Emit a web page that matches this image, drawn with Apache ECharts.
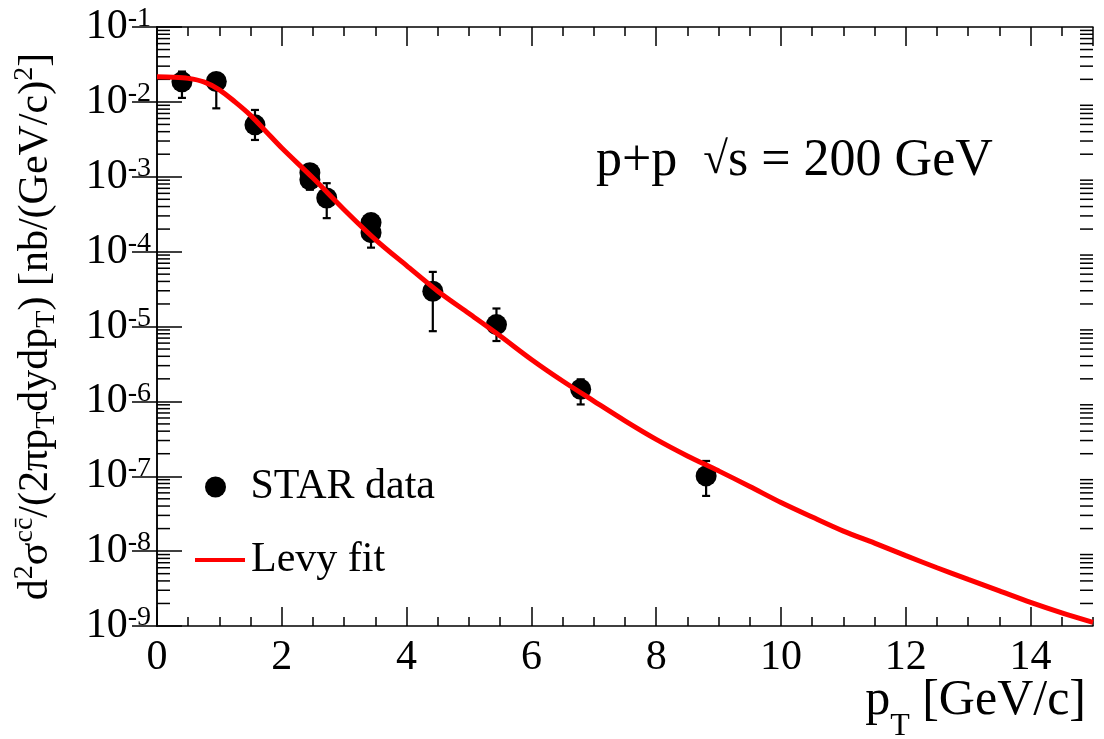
<!DOCTYPE html>
<html><head><meta charset="utf-8">
<script src="https://cdn.jsdelivr.net/npm/echarts@6/dist/echarts.min.js"></script>
<style>html,body{margin:0;padding:0;background:#fff}#c{width:1104px;height:739px}</style>
</head><body><div id="c"></div>
<script>
// STAR data points
const dataPT    = [0.40, 0.95, 1.57, 2.45, 2.45, 2.72, 3.43, 3.43, 4.42, 5.44, 6.79, 8.80];
const dataY     = [1.85e-2, 1.87e-2, 4.94e-3, 1.13e-3, 9.1e-4, 5.2e-4, 2.44e-4, 1.79e-4, 2.96e-5, 1.06e-5, 1.45e-6, 1.01e-7];
const dataErrLo = [1.13e-2, 8.2e-3, 3.1e-3, 9.0e-4, 6.7e-4, 2.8e-4, 2.0e-4, 1.13e-4, 8.66e-6, 6.4e-6, 9.1e-7, 5.46e-8];
const dataErrHi = [2.54e-2, 2.3e-2, 7.8e-3, 1.4e-3, 1.1e-3, 8.2e-4, 2.9e-4, 2.2e-4, 5.36e-5, 1.74e-5, 1.97e-6, 1.6e-7];
// Levy fit curve
const fitPT = [0, 0.25, 0.5, 0.75, 1.0, 1.25, 1.5, 1.75, 2.0, 2.5, 3.0, 3.5, 4.0, 4.5, 5.0, 5.5, 6.0, 6.5, 7.0, 7.5, 8.0, 8.5, 9.0, 9.5, 10.0, 10.5, 11.0, 11.5, 12.0, 12.5, 13.0, 13.5, 14.0, 14.5, 15.0];
const fitY  = [2.17e-2, 2.14e-2, 2.06e-2, 1.85e-2, 1.45e-2, 1.0e-2, 6.6e-3, 4.0e-3, 2.42e-3, 9.6e-4, 3.63e-4, 1.45e-4, 6.5e-5, 2.96e-5, 1.49e-5, 7.47e-6, 3.63e-6, 1.87e-6, 1.01e-6, 5.5e-7, 3.11e-7, 1.87e-7, 1.18e-7, 7.3e-8, 4.46e-8, 2.85e-8, 1.85e-8, 1.28e-8, 8.7e-9, 6.0e-9, 4.2e-9, 2.95e-9, 2.07e-9, 1.5e-9, 1.12e-9];
// axis ticks
const xTickMajor = 2;
const xTickMinor = 0.5;
const yDecades = [-9, -8, -7, -6, -5, -4, -3, -2];
const yMinorMult = [2, 3, 4, 5, 6, 7, 8, 9];
const seriesNames = ['STAR data', 'Levy fit'];

const FONT = '"Liberation Serif", "DejaVu Serif", serif';
const minorVals = [];
yDecades.forEach(d => yMinorMult.forEach(m => minorVals.push([0, m * Math.pow(10, d)])));

const chart = echarts.init(document.getElementById('c'), null, {renderer: 'canvas'});
const axisLineStyle = {color: '#000', width: 1.5};
const xBase = {type: 'value', min: 0, max: 15, splitLine: {show: false}};
const yBase = {type: 'log', logBase: 10, min: 1e-9, max: 1e-1, interval: 1, splitLine: {show: false}};
const txt = (size, extra) => Object.assign({fontSize: size, fontFamily: FONT, color: '#000', fontWeight: 'normal'}, extra || {});

const option = {
  animation: false,
  backgroundColor: '#fff',
  grid: {left: 157, right: 11, top: 27, bottom: 113, containLabel: false},
  title: [
    {text: '{a|p+p  }{r|√}{a|s = 200 GeV}', left: 591, top: 130,
     textStyle: {fontWeight: 'normal', rich: {a: txt(52), r: txt(45)}}},
    {text: '{a|p}{t|T}{a| [GeV/c]}', right: 13, top: 668,
     textStyle: {fontWeight: 'normal', rich: {a: txt(50, {lineHeight: 56}),
                        t: txt(32, {verticalAlign: 'bottom', lineHeight: 56, padding: [0, 0, -14, 0]})}}}
  ],
  legend: [
    {data: [{name: seriesNames[0], icon: 'circle', itemStyle: {color: '#000', opacity: 1}}], left: 200, top: 461, itemWidth: 26, itemHeight: 21, itemGap: 0, selectedMode: false,
     textStyle: txt(42, {padding: [0, 0, 0, 17]})},
    {data: [{name: seriesNames[1], icon: 'rect', itemStyle: {color: '#ff0000'}}], left: 190, top: 534, itemWidth: 50, itemHeight: 4, itemGap: 0, selectedMode: false,
     textStyle: txt(42, {padding: [0, 0, 0, 1]})}
  ],
  xAxis: [
    Object.assign({}, xBase, {position: 'bottom', interval: xTickMajor,
      axisLine: {show: true, lineStyle: axisLineStyle},
      axisTick: {show: true, inside: true, length: 19, lineStyle: axisLineStyle},
      axisLabel: {show: true, fontSize: 42, fontFamily: FONT, color: '#000', margin: 11, showMaxLabel: false}}),
    Object.assign({}, xBase, {position: 'bottom', interval: xTickMinor,
      axisLine: {show: false},
      axisTick: {show: true, inside: true, length: 9, lineStyle: axisLineStyle},
      axisLabel: {show: false}}),
    Object.assign({}, xBase, {position: 'top', interval: xTickMajor,
      axisLine: {show: true, lineStyle: axisLineStyle},
      axisTick: {show: true, inside: true, length: 19, lineStyle: axisLineStyle},
      axisLabel: {show: false}}),
    Object.assign({}, xBase, {position: 'top', interval: xTickMinor,
      axisLine: {show: false},
      axisTick: {show: true, inside: true, length: 9, lineStyle: axisLineStyle},
      axisLabel: {show: false}})
  ],
  yAxis: [
    Object.assign({}, yBase, {position: 'left',
      axisLine: {show: true, lineStyle: axisLineStyle},
      axisTick: {show: true, inside: true, length: 25, lineStyle: axisLineStyle},
      axisLabel: {show: true, margin: 6, color: '#000',
        formatter: v => '{b|10}{s|' + Math.round(Math.log10(v)) + '}',
        rich: {b: txt(42, {lineHeight: 44}),
               s: txt(28, {verticalAlign: 'top', lineHeight: 44})}},
      name: '{n|d}{s|2}{n|σ}{s|cc\u0304}{n|/(2πp}{t|T}{n|dydp}{t|T}{n|) [nb/(GeV/c)}{s|2}{n|]}',
      nameLocation: 'middle', nameRotate: 90, nameGap: 96,
      nameTextStyle: {rich: {
        n: txt(42, {lineHeight: 50}),
        s: txt(28, {verticalAlign: 'top', lineHeight: 50}),
        t: txt(28, {verticalAlign: 'bottom', lineHeight: 50})}}}),
    Object.assign({}, yBase, {position: 'right',
      axisLine: {show: true, lineStyle: axisLineStyle},
      axisTick: {show: true, inside: true, length: 25, lineStyle: axisLineStyle},
      axisLabel: {show: false}})
  ],
  series: [
    {type: 'custom', name: 'minorTicks', xAxisIndex: 0, yAxisIndex: 0, silent: true, z: 1,
     data: minorVals, encode: {x: 0, y: 1},
     renderItem: function (params, api) {
       const y = api.coord([0, api.value(1)])[1];
       const cs = params.coordSys;
       return {type: 'group', children: [
         {type: 'line', shape: {x1: cs.x, y1: y, x2: cs.x + 13, y2: y}, style: {stroke: '#000', lineWidth: 1.5}},
         {type: 'line', shape: {x1: cs.x + cs.width - 13, y1: y, x2: cs.x + cs.width, y2: y}, style: {stroke: '#000', lineWidth: 1.5}}
       ]};
     }},
    {type: 'custom', name: 'errors', xAxisIndex: 0, yAxisIndex: 0, silent: true, z: 2,
     data: dataPT.map((x, i) => [x, dataErrLo[i], dataErrHi[i]]),
     encode: {x: 0, y: [1, 2]},
     renderItem: function (params, api) {
       const x = api.value(0);
       const pLo = api.coord([x, api.value(1)]);
       const pHi = api.coord([x, api.value(2)]);
       const c = 4, st = {stroke: '#000', lineWidth: 2.2};
       return {type: 'group', children: [
         {type: 'line', shape: {x1: pLo[0], y1: pLo[1], x2: pHi[0], y2: pHi[1]}, style: st},
         {type: 'line', shape: {x1: pLo[0] - c, y1: pLo[1], x2: pLo[0] + c, y2: pLo[1]}, style: st},
         {type: 'line', shape: {x1: pHi[0] - c, y1: pHi[1], x2: pHi[0] + c, y2: pHi[1]}, style: st}
       ]};
     }},
    {type: 'scatter', name: seriesNames[0], xAxisIndex: 0, yAxisIndex: 0, z: 3,
     symbol: 'circle', symbolSize: 21, itemStyle: {color: '#000', opacity: 1},
     emphasis: {disabled: true},
     data: dataPT.map((x, i) => [x, dataY[i]])},
    {type: 'line', name: seriesNames[1], xAxisIndex: 0, yAxisIndex: 0, z: 5,
     symbol: 'none', smooth: 0.3, lineStyle: {color: '#ff0000', width: 5}, itemStyle: {color: '#ff0000'},
     data: fitPT.map((x, i) => [x, fitY[i]])}
  ]
};
chart.setOption(option);
</script>
</body></html>
